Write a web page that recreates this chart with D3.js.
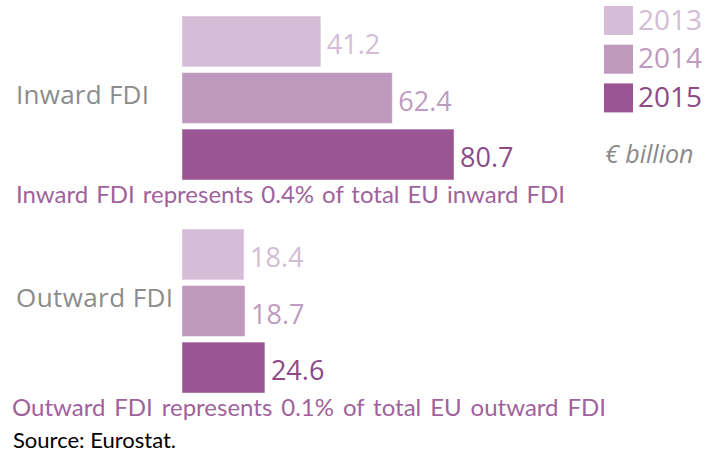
<!DOCTYPE html>
<html>
<head>
<meta charset="utf-8">
<script src="https://cdn.jsdelivr.net/npm/d3@7"></script>
<style>
  body { margin: 0; background: #fff; }
  svg { display: block; }
</style>
</head>
<body>
<svg id="chart"></svg>
<script>
const years = ["2013", "2014", "2015"];
const groups = ["Inward FDI", "Outward FDI"];
const inward = [41.2, 62.4, 80.7];
const outward = [18.4, 18.7, 24.6];
const notes = [
  "Inward FDI represents 0.4% of total EU inward FDI",
  "Outward FDI represents 0.1% of total EU outward FDI"
];
const unitLabel = "€ billion";
const sourceLabel = "Source: Eurostat.";

const values = [inward, outward];

const width = 718, height = 454;
const barFill = ["#d5bdd7", "#bf98be", "#9b5592"];
const valueFill = ["#d3bcd5", "#bf9bbf", "#8c4a87"];

const svg = d3.select("#chart")
  .attr("width", width)
  .attr("height", height)
  .attr("viewBox", [0, 0, width, height])
  .style("font-family", "'Open Sans', sans-serif");

const x = d3.scaleLinear()
  .domain([0, d3.max(values.flat())])
  .range([182, 454]);

const yGroup = d3.scaleBand()
  .domain(groups)
  .range([16, 442]);

const yBar = d3.scaleBand()
  .domain(years)
  .range([0, 164])
  .paddingInner(0.1);

const color = d3.scaleOrdinal().domain(years).range(barFill);
const textColor = d3.scaleOrdinal().domain(years).range(valueFill);

// small vertical nudges for the category labels, as in the original layout
const labelDy = {"Inward FDI": 6, "Outward FDI": -4};
const labelWidth = {"Inward FDI": 133, "Outward FDI": 157};
const noteWidth = [549, 594];

// stretch a text to a target width by widening the word gaps
function fitWords(sel, target) {
  const node = sel.node();
  const natural = node.getComputedTextLength();
  const gaps = (sel.text().match(/ /g) || []).length;
  if (gaps > 0) sel.attr("word-spacing", (target - natural) / gaps);
}

const group = svg.selectAll("g.group")
  .data(groups)
  .join("g")
  .attr("class", "group")
  .attr("transform", g => `translate(0,${yGroup(g)})`);

group.each(function(g, gi) {
  const sel = d3.select(this);
  const rows = years.map((yr, i) => ({year: yr, value: values[gi][i]}));

  sel.selectAll("rect")
    .data(rows)
    .join("rect")
    .attr("x", x(0))
    .attr("y", d => yBar(d.year))
    .attr("width", d => x(d.value) - x(0))
    .attr("height", yBar.bandwidth())
    .attr("fill", d => color(d.year))
    .attr("stroke", "#ffffff")
    .attr("stroke-opacity", 0.45)
    .attr("stroke-width", 1);

  sel.selectAll("text.value")
    .data(rows)
    .join("text")
    .attr("class", "value")
    .attr("x", d => x(d.value) + 6)
    .attr("y", d => yBar(d.year) + yBar.bandwidth() / 2 + 12.5)
    .attr("fill", d => textColor(d.year))
    .style("font-size", "27px")
    .text(d => d.value.toFixed(1));

  sel.append("text")
    .attr("x", 16)
    .attr("y", yBar("2014") + yBar.bandwidth() / 2 + labelDy[g])
    .attr("fill", "#8c8c8c")
    .attr("textLength", labelWidth[g])
    .attr("lengthAdjust", "spacing")
    .style("font-size", "26px")
    .text(g);

  sel.append("text")
    .attr("x", gi == 0 ? 16 : 12)
    .attr("y", 187)
    .attr("fill", "#a0629c")
    .style("font-family", "Lato, sans-serif")
    .style("font-size", "24px")
    .text(notes[gi])
    .call(fitWords, noteWidth[gi]);
});

// legend
const legend = svg.append("g")
  .selectAll("g")
  .data(years)
  .join("g")
  .attr("transform", (d, i) => `translate(604,${6 + i * 38.7})`);

legend.append("rect")
  .attr("width", 29)
  .attr("height", 29)
  .attr("fill", d => color(d));

legend.append("text")
  .attr("x", 34)
  .attr("y", 23.5)
  .attr("fill", d => textColor(d))
  .style("font-size", "28px")
  .text(d => d);

svg.append("text")
  .attr("x", 605)
  .attr("y", 163)
  .attr("fill", "#8a8a8a")
  .style("font-size", "25px")
  .style("font-style", "italic")
  .text(unitLabel);

svg.append("text")
  .attr("x", 13)
  .attr("y", 448)
  .attr("fill", "#000")
  .style("font-family", "Lato, sans-serif")
  .style("font-size", "22px")
  .text(sourceLabel);
</script>
</body>
</html>
